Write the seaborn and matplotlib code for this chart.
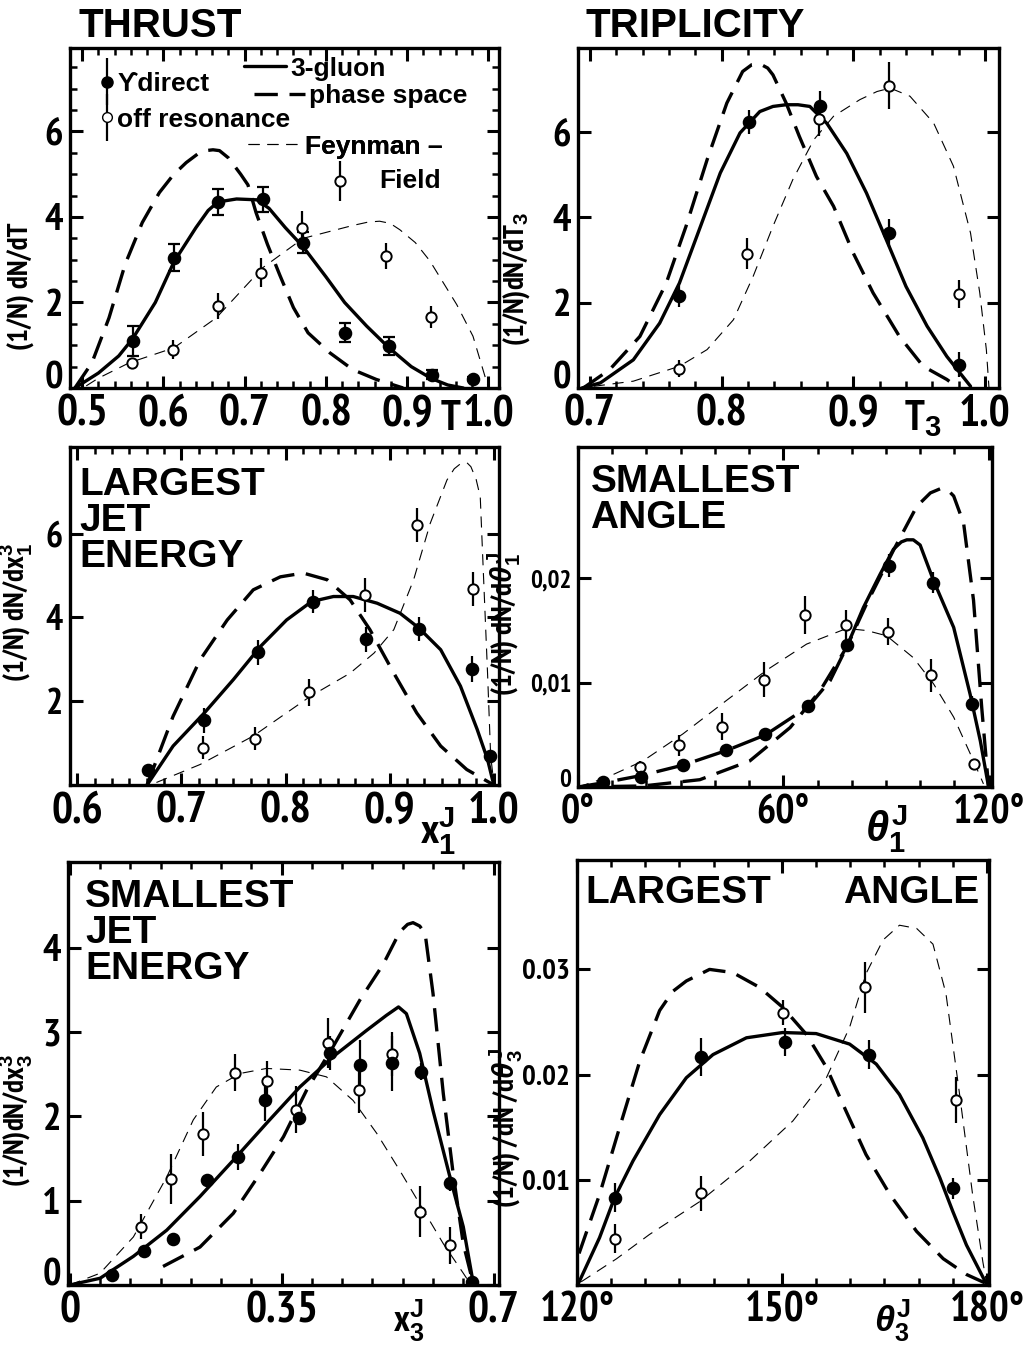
# Six-panel event-shape figure (Upsilon direct vs off resonance)
import matplotlib
matplotlib.use("Agg")
import matplotlib.pyplot as plt
import seaborn as sns
from matplotlib.ticker import MultipleLocator
from matplotlib.container import ErrorbarContainer
from matplotlib.legend_handler import HandlerErrorbar
from matplotlib.lines import Line2D

# -----------------------------
# Data : THRUST
# -----------------------------
thr_dir_x = [0.562, 0.613, 0.667, 0.722, 0.772, 0.823, 0.877, 0.930, 0.981]
thr_dir_y = [1.10, 3.05, 4.35, 4.41, 3.40, 1.29, 0.98, 0.31, 0.21]
thr_dir_e = [0.35, 0.31, 0.30, 0.30, 0.25, 0.22, 0.22, 0.10, 0.05]
thr_off_x = [0.561, 0.612, 0.667, 0.720, 0.771, 0.817, 0.874, 0.929]
thr_off_y = [0.59, 0.90, 1.91, 2.70, 3.73, 4.84, 3.09, 1.66]
thr_off_e = [0.0, 0.23, 0.30, 0.35, 0.40, 0.47, 0.30, 0.25]
thr_glu_x = [0.491, 0.52, 0.545, 0.562, 0.59, 0.613, 0.64, 0.655, 0.667, 0.69, 0.715, 0.73,
             0.75, 0.772, 0.80, 0.823, 0.85, 0.877, 0.905, 0.93, 0.95, 0.969]
thr_glu_y = [0.0, 0.35, 0.75, 1.15, 2.0, 2.95, 3.75, 4.15, 4.35, 4.42, 4.40, 4.2,
             3.75, 3.3, 2.6, 2.0, 1.45, 0.95, 0.5, 0.22, 0.07, 0.0]
thr_ps_x = [0.491, 0.512, 0.533, 0.553, 0.574, 0.595, 0.612, 0.628, 0.642, 0.652, 0.661,
            0.669, 0.68, 0.695, 0.704, 0.714, 0.728, 0.743, 0.76, 0.778, 0.805, 0.833,
            0.862, 0.895]
thr_ps_y = [0.0, 0.59, 1.64, 2.9, 3.87, 4.57, 4.98, 5.27, 5.47, 5.55, 5.57,
            5.55, 5.38, 5.0, 4.75, 4.1, 3.36, 2.65, 1.88, 1.29, 0.82, 0.43,
            0.2, 0.0]
thr_ff_x = [0.505, 0.52, 0.558, 0.613, 0.665, 0.722, 0.772, 0.833, 0.852, 0.866, 0.879,
            0.891, 0.91, 0.928, 0.961, 0.981, 1.0]
thr_ff_y = [0.05, 0.23, 0.59, 0.94, 1.64, 2.81, 3.5, 3.8, 3.88, 3.9, 3.85,
            3.7, 3.4, 2.97, 1.95, 1.21, 0.0]

# -----------------------------
# Data : TRIPLICITY
# -----------------------------
tri_dir_x = [0.768, 0.821, 0.875, 0.927, 0.980]
tri_dir_y = [2.16, 6.23, 6.62, 3.63, 0.55]
tri_dir_e = [0.25, 0.28, 0.35, 0.33, 0.30]
tri_off_x = [0.768, 0.819, 0.874, 0.927, 0.980]
tri_off_y = [0.45, 3.15, 6.30, 7.09, 2.21]
tri_off_e = [0.20, 0.37, 0.40, 0.55, 0.33]
tri_glu_x = [0.694, 0.708, 0.733, 0.753, 0.768, 0.784, 0.799, 0.814, 0.829, 0.839, 0.849,
             0.858, 0.867, 0.88, 0.895, 0.91, 0.925, 0.94, 0.956, 0.971, 0.989]
tri_glu_y = [0.0, 0.12, 0.66, 1.52, 2.46, 3.79, 5.04, 5.98, 6.48, 6.6, 6.64,
             6.64, 6.6, 6.2, 5.5, 4.57, 3.48, 2.38, 1.45, 0.74, 0.04]
tri_ps_x = [0.695, 0.715, 0.738, 0.758, 0.773, 0.789, 0.804, 0.816, 0.823, 0.829, 0.835,
            0.839, 0.849, 0.859, 0.872, 0.885, 0.9, 0.915, 0.935, 0.953, 0.971, 0.978]
tri_ps_y = [0.0, 0.43, 1.21, 2.46, 3.79, 5.35, 6.68, 7.42, 7.58, 7.6, 7.5,
            7.34, 6.68, 5.9, 4.96, 4.26, 3.16, 2.23, 1.21, 0.51, 0.2, 0.04]
tri_ff_x = [0.703, 0.733, 0.768, 0.789, 0.809, 0.824, 0.839, 0.854, 0.87, 0.885, 0.905,
            0.918, 0.928, 0.943, 0.961, 0.976, 0.989, 0.996, 1.001, 1.003]
tri_ff_y = [0.04, 0.16, 0.51, 0.9, 1.6, 2.62, 3.79, 4.88, 5.82, 6.37, 6.76,
            6.95, 7.03, 6.84, 6.21, 5.2, 3.63, 2.23, 0.9, 0.0]

# -----------------------------
# Data : LARGEST JET ENERGY
# -----------------------------
lje_dir_x = [0.668, 0.722, 0.774, 0.826, 0.877, 0.928, 0.979, 0.996]
lje_dir_y = [0.37, 1.55, 3.17, 4.38, 3.48, 3.72, 2.77, 0.69]
lje_dir_e = [0.10, 0.30, 0.30, 0.28, 0.30, 0.28, 0.30, 0.15]
lje_off_x = [0.721, 0.771, 0.823, 0.876, 0.926, 0.980]
lje_off_y = [0.89, 1.11, 2.21, 4.54, 6.21, 4.68]
lje_off_e = [0.28, 0.28, 0.32, 0.40, 0.40, 0.40]
lje_glu_x = [0.667, 0.692, 0.722, 0.750, 0.776, 0.801, 0.825, 0.846, 0.865, 0.888, 0.910,
             0.928, 0.949, 0.968, 0.984, 0.994, 1.0]
lje_glu_y = [0.0, 0.93, 1.72, 2.52, 3.31, 3.94, 4.38, 4.5, 4.5, 4.34, 4.1,
             3.75, 3.23, 2.36, 1.33, 0.61, 0.0]
lje_ps_x = [0.667, 0.692, 0.718, 0.744, 0.769, 0.795, 0.817, 0.840, 0.862, 0.881, 0.904,
            0.926, 0.949, 0.974, 1.0]
lje_ps_y = [0.0, 1.64, 2.99, 3.94, 4.66, 4.97, 5.06, 4.9, 4.42, 3.71, 2.67,
            1.72, 0.93, 0.37, 0.0]
lje_ff_x = [0.676, 0.718, 0.769, 0.824, 0.862, 0.885, 0.904, 0.923, 0.939, 0.955, 0.962,
            0.968, 0.974, 0.978, 0.983, 0.987, 0.990, 0.994, 0.997, 1.0]
lje_ff_y = [0.06, 0.49, 1.17, 2.12, 2.67, 3.15, 3.71, 4.9, 6.25, 7.28, 7.55,
            7.67, 7.7, 7.6, 7.3, 6.88, 5.06, 2.67, 0.69, 0.06]

# -----------------------------
# Data : SMALLEST ANGLE (degrees)
# -----------------------------
sa_dir_x = [7.3, 18.5, 30.7, 43.4, 54.8, 67.3, 78.5, 91.0, 103.9, 115.1]
sa_dir_y = [0.0005, 0.0010, 0.0021, 0.0035, 0.0051, 0.0078, 0.0136, 0.0212, 0.0196, 0.0080]
sa_dir_e = [0.0, 0.0, 0.0, 0.0, 0.0, 0.0, 0.0, 0.0011, 0.0010, 0.0007]
sa_off_x = [18.0, 29.6, 42.2, 54.4, 66.4, 78.3, 90.5, 103.1, 115.6]
sa_off_y = [0.0019, 0.0040, 0.0058, 0.0103, 0.0165, 0.0155, 0.0149, 0.0107, 0.0022]
sa_off_e = [0.0006, 0.0010, 0.0013, 0.0017, 0.0018, 0.0015, 0.0013, 0.0016, 0.0003]
sa_glu_lo_x = [0.0, 7.3, 18.5, 30.7, 43.4, 54.8, 67.3, 73.7, 78.5]
sa_glu_lo_y = [0.0, 0.0004, 0.0011, 0.0021, 0.0035, 0.0050, 0.0077, 0.0102, 0.0134]
sa_glu_hi_x = [78.5, 83.4, 88.3, 92.2, 94.5, 96.1, 98.0, 100.0, 103.9, 109.8, 114.6, 117.6, 120.0]
sa_glu_hi_y = [0.0134, 0.0172, 0.0204, 0.0228, 0.0235, 0.0237, 0.0237, 0.0232, 0.0198,
               0.0153, 0.0089, 0.0044, 0.0]
sa_ps_x = [0.0, 19.0, 35.6, 50.2, 62.0, 70.7, 78.5, 84.4, 92.2, 99.0, 103.0, 105.9, 108.0,
           109.8, 112.7, 115.6, 118.0, 120.0]
sa_ps_y = [0.0, 0.0001, 0.0007, 0.0025, 0.0057, 0.0092, 0.0134, 0.0176, 0.0227, 0.0269,
           0.0282, 0.0286, 0.0285, 0.0279, 0.0253, 0.0179, 0.0076, 0.0]
sa_ff_x = [0.0, 8.3, 19.0, 30.7, 43.4, 55.1, 66.8, 78.5, 84.4, 90.2, 98.0, 103.9,
           109.8, 115.6, 118.5]
sa_ff_y = [0.0, 0.0009, 0.0025, 0.0051, 0.0083, 0.0112, 0.0137, 0.0152, 0.0150, 0.0145,
           0.0124, 0.0099, 0.0067, 0.0025, 0.0003]

# -----------------------------
# Data : SMALLEST JET ENERGY
# -----------------------------
sje_dir_x = [0.069, 0.122, 0.170, 0.226, 0.278, 0.323, 0.379, 0.429, 0.479, 0.532, 0.580,
             0.628, 0.664]
sje_dir_y = [0.12, 0.40, 0.55, 1.25, 1.52, 2.20, 1.98, 2.75, 2.61, 2.63, 2.53, 1.21, 0.04]
sje_dir_e = [0.0, 0.0, 0.0, 0.0, 0.15, 0.25, 0.0, 0.20, 0.30, 0.33, 0.10, 0.10, 0.0]
sje_off_x = [0.117, 0.167, 0.220, 0.273, 0.326, 0.373, 0.427, 0.478, 0.532, 0.579, 0.628]
sje_off_y = [0.69, 1.26, 1.79, 2.52, 2.42, 2.08, 2.87, 2.32, 2.74, 0.87, 0.47]
sje_off_e = [0.15, 0.30, 0.26, 0.22, 0.24, 0.28, 0.30, 0.28, 0.26, 0.30, 0.22]
sje_glu_x = [0.0, 0.05, 0.105, 0.16, 0.215, 0.27, 0.325, 0.38, 0.435, 0.49, 0.523, 0.543,
             0.556, 0.578, 0.6, 0.628, 0.65, 0.667]
sje_glu_y = [0.0, 0.08, 0.34, 0.65, 1.05, 1.48, 1.92, 2.35, 2.71, 3.02, 3.2, 3.3,
             3.22, 2.75, 2.07, 1.28, 0.69, 0.0]
sje_ps_x = [0.154, 0.215, 0.27, 0.314, 0.353, 0.391, 0.435, 0.479, 0.518, 0.545, 0.558,
            0.567, 0.578, 0.587, 0.6, 0.617, 0.634, 0.65, 0.667]
sje_ps_y = [0.22, 0.45, 0.85, 1.32, 1.76, 2.31, 2.83, 3.38, 3.81, 4.19, 4.28,
            4.3, 4.26, 4.17, 3.46, 2.27, 1.28, 0.49, 0.0]
sje_ff_x = [0.0, 0.05, 0.105, 0.16, 0.204, 0.242, 0.281, 0.325, 0.38, 0.424, 0.468,
            0.507, 0.545, 0.584, 0.617, 0.65, 0.661]
sje_ff_y = [0.0, 0.14, 0.57, 1.28, 1.96, 2.35, 2.51, 2.57, 2.55, 2.47, 2.19,
            1.8, 1.36, 0.89, 0.49, 0.14, 0.02]

# -----------------------------
# Data : LARGEST ANGLE (degrees)
# -----------------------------
la_dir_x = [125.5, 138.2, 150.4, 162.7, 175.1]
la_dir_y = [0.0083, 0.0217, 0.0231, 0.0219, 0.0092]
la_dir_e = [0.0014, 0.0018, 0.0013, 0.0014, 0.0010]
la_off_x = [125.5, 138.1, 150.2, 162.1, 175.5]
la_off_y = [0.0044, 0.0087, 0.0259, 0.0283, 0.0176]
la_off_e = [0.0014, 0.0017, 0.0012, 0.0024, 0.0022]
la_glu_x = [120.1, 123.3, 125.5, 128.2, 132.1, 136.0, 139.9, 144.8, 150.1, 155.0, 159.9,
            163.8, 167.2, 170.6, 173.1, 175.0, 177.0, 180.0]
la_glu_y = [0.0, 0.0045, 0.0083, 0.0118, 0.0162, 0.0197, 0.0219, 0.0235, 0.0240, 0.0239,
            0.0229, 0.0210, 0.0181, 0.0140, 0.0102, 0.0070, 0.0038, 0.0]
la_ps_x = [120.3, 123.3, 126.2, 129.2, 132.1, 134.0, 136.0, 139.4, 142.8, 146.7, 150.1, 153.6,
           156.5, 159.4, 162.3, 165.8, 169.7, 173.6, 177.0, 179.7]
la_ps_y = [0.0030, 0.0086, 0.0149, 0.0213, 0.0261, 0.0279, 0.0289, 0.0300, 0.0297, 0.0283,
           0.0264, 0.0238, 0.0207, 0.0165, 0.0124, 0.0086, 0.0051, 0.0025, 0.0010, 0.0002]
la_ff_x = [120.6, 125.8, 130.6, 137.9, 145.3, 151.6, 156.5, 159.9, 162.3, 164.8, 167.2,
           169.7, 172.1, 174.0, 176.0, 177.9, 179.4, 180.0]
la_ff_y = [0.0003, 0.0025, 0.0048, 0.0079, 0.0118, 0.0156, 0.0197, 0.0245, 0.0296, 0.0328,
           0.0342, 0.0339, 0.0324, 0.0277, 0.0181, 0.0086, 0.0022, 0.0]

# -----------------------------
# Style
# -----------------------------
sns.set_theme(style="ticks")
NARROW = ["PT Sans Narrow", "IBM Plex Sans Condensed", "Fira Sans Condensed",
          "Liberation Sans Narrow", "DejaVu Sans"]
WIDE = ["Liberation Sans", "DejaVu Sans"]
plt.rcParams["font.family"] = NARROW
plt.rcParams["font.weight"] = "bold"
plt.rcParams["text.color"] = "black"
plt.rcParams["axes.labelcolor"] = "black"
plt.rcParams["xtick.color"] = "black"
plt.rcParams["ytick.color"] = "black"
plt.rcParams["mathtext.fontset"] = "custom"
plt.rcParams["mathtext.rm"] = "Liberation Sans:bold"
plt.rcParams["mathtext.it"] = "Liberation Sans:bold:italic"
plt.rcParams["mathtext.bf"] = "Liberation Sans:bold"
plt.rcParams["axes.linewidth"] = 2.4
plt.rcParams["axes.edgecolor"] = "black"

W, H = 1036, 1348
fig = plt.figure(figsize=(W / 100, H / 100), dpi=100)

LINE_STYLES = {
    "glu": dict(linewidth=2.4, linestyle="-"),
    "ps": dict(linewidth=2.4, linestyle=(0, (7, 3.5))),
    "long": dict(linewidth=2.4, linestyle=(0, (9, 3))),
    "ff": dict(linewidth=0.8, linestyle=(0, (10, 7))),
}


def add_panel(box):
    l, t, r, b = box
    return fig.add_axes([l / W, 1 - b / H, (r - l) / W, (b - t) / H])


def curve(ax, x, y, kind):
    sns.lineplot(x=x, y=y, ax=ax, color="black", sort=False, estimator=None,
                 zorder=2, **LINE_STYLES[kind])


def points(ax, x, y, err, filled, cap=0):
    ax.errorbar(x, y, yerr=err, fmt="none", ecolor="black", elinewidth=1.6,
                capsize=cap, capthick=1.6, zorder=3)
    sns.scatterplot(x=x, y=y, ax=ax, s=70 if filled else 55,
                    color="black" if filled else "white",
                    edgecolor="black", linewidth=1.4, zorder=4)


def style_axes(ax, xlim, ylim, xt, xtl, yt, ytl, xminor=None, yminor=None,
               xfs=32, yfs=26):
    ax.set_xlim(*xlim)
    ax.set_ylim(*ylim)
    ax.set_xticks(xt)
    ax.set_xticklabels(xtl, fontsize=xfs, fontweight="bold", family=NARROW)
    ax.set_yticks(yt)
    ax.set_yticklabels(ytl, fontsize=yfs, fontweight="bold", family=NARROW)
    if xminor:
        ax.xaxis.set_minor_locator(MultipleLocator(xminor))
    if yminor:
        ax.yaxis.set_minor_locator(MultipleLocator(yminor))
    ax.tick_params(which="both", direction="in", top=True, right=True,
                   color="black", labelcolor="black")
    ax.tick_params(which="major", length=9, width=2.2, pad=5)
    ax.tick_params(which="minor", length=5, width=1.8)
    ax.set_xlabel("")
    ax.set_ylabel("")
    for s in ax.spines.values():
        s.set_linewidth(2.4)
        s.set_color("black")
    # the zero label sits on the axis line, as in the print
    for lbl in ax.get_yticklabels():
        if lbl.get_text() == "0":
            lbl.set_verticalalignment("baseline")


def ylab(ax, text, xf, yf, fs=21):
    ax.set_ylabel(text, fontsize=fs, fontweight="bold", family=NARROW)
    ax.yaxis.set_label_coords(xf, yf)


def xname(ax, text, xd, yf, fs=30):
    ax.text(xd, yf, text, transform=ax.get_xaxis_transform(), ha="center",
            va="top", fontsize=fs, fontweight="bold", family=NARROW)


def big(ax, text, xf, yf, fs=28, va="top"):
    ax.text(xf, yf, text, transform=ax.transAxes, ha="left", va=va,
            fontsize=fs, fontweight="bold", family=WIDE, linespacing=1.0)


def line_key(ax, kind, label, anchor, hl):
    leg = ax.legend([Line2D([], [], color="black", **LINE_STYLES[kind])], [label],
                    loc="upper left", bbox_to_anchor=anchor, frameon=False,
                    handlelength=hl, handletextpad=0.15, borderaxespad=0, borderpad=0,
                    prop=dict(size=19, weight="bold", family=WIDE))
    ax.add_artist(leg)


# -----------------------------
# Panel 1 : THRUST
# -----------------------------
ax1 = add_panel((70, 48, 499, 388))
curve(ax1, thr_ff_x, thr_ff_y, "ff")
curve(ax1, thr_ps_x, thr_ps_y, "ps")
curve(ax1, thr_glu_x, thr_glu_y, "glu")
points(ax1, thr_off_x, thr_off_y, thr_off_e, False)
points(ax1, thr_dir_x, thr_dir_y, thr_dir_e, True, cap=4)
style_axes(ax1, (0.485, 1.013), (0, 7.95),
           [0.5, 0.6, 0.7, 0.8, 0.9, 1.0], ["0.5", "0.6", "0.7", "0.8", "0.9", "1.0"],
           [0, 2, 4, 6], ["0", "2", "4", "6"], xminor=0.02, yminor=0.5, yfs=28)
ylab(ax1, "(1/N) dN/dT", -0.082, 0.30)
xname(ax1, "T", 0.953, -0.035, fs=30)
big(ax1, "THRUST", 0.02, 1.008, fs=29, va="bottom")

h_dir = ax1.errorbar([], [], yerr=[], fmt="o", color="black", mfc="black", ms=8,
                     elinewidth=1.6)
h_off = ax1.errorbar([], [], yerr=[], fmt="o", color="black", mfc="white", ms=7,
                     elinewidth=1.6)
leg1 = ax1.legend([h_dir, h_off], ["\u03d2direct", "off resonance"], loc="upper left",
                  bbox_to_anchor=(0.07, 0.93), frameon=False, handlelength=0.5,
                  handletextpad=0.15, labelspacing=0.45, borderaxespad=0, borderpad=0,
                  prop=dict(size=19, weight="bold", family=WIDE),
                  handler_map={ErrorbarContainer: HandlerErrorbar(xerr_size=0.9)})
ax1.add_artist(leg1)
line_key(ax1, "glu", "3-gluon", (0.405, 0.975), 1.6)
line_key(ax1, "ps", "phase space", (0.43, 0.893), 1.9)
line_key(ax1, "ff", "Feynman \u2013", (0.415, 0.745), 2.0)
ax1.text(0.72, 0.61, "Field", transform=ax1.transAxes, ha="left", va="center",
         fontsize=19, fontweight="bold", family=WIDE)

# -----------------------------
# Panel 2 : TRIPLICITY
# -----------------------------
ax2 = add_panel((578, 48, 999, 388))
curve(ax2, tri_ff_x, tri_ff_y, "ff")
curve(ax2, tri_ps_x, tri_ps_y, "ps")
curve(ax2, tri_glu_x, tri_glu_y, "glu")
points(ax2, tri_off_x, tri_off_y, tri_off_e, False)
points(ax2, tri_dir_x, tri_dir_y, tri_dir_e, True)
style_axes(ax2, (0.691, 1.0106), (0, 7.97),
           [0.7, 0.8, 0.9, 1.0], ["0.7", "0.8", "0.9", "1.0"],
           [0, 2, 4, 6], ["0", "2", "4", "6"], xminor=0.02, yfs=28)
ylab(ax2, "(1/N)dN/dT$_3$", -0.109, 0.32)
xname(ax2, "T$_3$", 0.953, -0.03)
big(ax2, "TRIPLICITY", 0.017, 1.008, fs=29, va="bottom")

# -----------------------------
# Panel 3 : LARGEST JET ENERGY
# -----------------------------
ax3 = add_panel((70, 447, 499, 785))
curve(ax3, lje_ff_x, lje_ff_y, "ff")
curve(ax3, lje_ps_x, lje_ps_y, "ps")
curve(ax3, lje_glu_x, lje_glu_y, "glu")
points(ax3, lje_off_x, lje_off_y, lje_off_e, False)
points(ax3, lje_dir_x, lje_dir_y, lje_dir_e, True)
style_axes(ax3, (0.593, 1.005), (0, 8.07),
           [0.6, 0.7, 0.8, 0.9, 1.0], ["0.6", "0.7", "0.8", "0.9", "1.0"],
           [2, 4, 6], ["2", "4", "6"], xminor=1 / 60)
ylab(ax3, "(1/N) dN/dx$_1^3$", -0.082, 0.51)
xname(ax3, "x$_1^{\\mathrm{J}}$", 0.946, -0.06)
big(ax3, "LARGEST\nJET\nENERGY", 0.022, 0.94)

# -----------------------------
# Panel 4 : SMALLEST ANGLE
# -----------------------------
ax4 = add_panel((578, 447, 992, 787))
curve(ax4, sa_ff_x, sa_ff_y, "ff")
curve(ax4, sa_ps_x, sa_ps_y, "ps")
curve(ax4, sa_glu_lo_x, sa_glu_lo_y, "long")
curve(ax4, sa_glu_hi_x, sa_glu_hi_y, "glu")
points(ax4, sa_off_x, sa_off_y, sa_off_e, False)
points(ax4, sa_dir_x, sa_dir_y, sa_dir_e, True)
style_axes(ax4, (0, 121), (0, 0.0326),
           [0, 60, 120], ["0\u00b0", "60\u00b0", "120\u00b0"],
           [0, 0.01, 0.02], ["0", "0,01", "0,02"], xminor=10, xfs=29, yfs=18)
ylab(ax4, "(1/N) dN/d$\\theta_1^{\\mathrm{J}}$", -0.133, 0.48)
xname(ax4, "$\\theta_1^{\\mathrm{J}}$", 90, -0.047)
big(ax4, "SMALLEST\nANGLE", 0.03, 0.95)

# -----------------------------
# Panel 5 : SMALLEST JET ENERGY
# -----------------------------
ax5 = add_panel((68, 862, 499, 1285))
curve(ax5, sje_ff_x, sje_ff_y, "ff")
curve(ax5, sje_ps_x, sje_ps_y, "ps")
curve(ax5, sje_glu_x, sje_glu_y, "glu")
points(ax5, sje_off_x, sje_off_y, sje_off_e, False)
points(ax5, sje_dir_x, sje_dir_y, sje_dir_e, True)
style_axes(ax5, (-0.003, 0.709), (0, 5.02),
           [0, 0.35, 0.7], ["0", "0.35", "0.7"],
           [0, 1, 2, 3, 4], ["0", "1", "2", "3", "4"], xminor=0.05, yfs=28)
ylab(ax5, "(1/N)dN/dx$_3^3$", -0.077, 0.39)
xname(ax5, "x$_3^{\\mathrm{J}}$", 0.559, -0.03, fs=26)
big(ax5, "SMALLEST\nJET\nENERGY", 0.04, 0.96)

# -----------------------------
# Panel 6 : LARGEST ANGLE
# -----------------------------
ax6 = add_panel((577, 860, 989, 1285))
curve(ax6, la_ff_x, la_ff_y, "ff")
curve(ax6, la_ps_x, la_ps_y, "ps")
curve(ax6, la_glu_x, la_glu_y, "glu")
points(ax6, la_off_x, la_off_y, la_off_e, False)
points(ax6, la_dir_x, la_dir_y, la_dir_e, True)
style_axes(ax6, (120, 180.3), (0, 0.0404),
           [120, 150, 180], ["120\u00b0", "150\u00b0", "180\u00b0"],
           [0.01, 0.02, 0.03], ["0.01", "0.02", "0.03"], xminor=5, xfs=30, yfs=21)
ylab(ax6, "(1/N) /dN /d$\\theta_3^{\\mathrm{J}}$", -0.126, 0.37)
xname(ax6, "$\\theta_3^{\\mathrm{J}}$", 166.2, -0.03, fs=26)
big(ax6, "LARGEST", 0.02, 0.965)
big(ax6, "ANGLE", 0.646, 0.965)

fig.savefig("out.png", dpi=100, facecolor="white")
